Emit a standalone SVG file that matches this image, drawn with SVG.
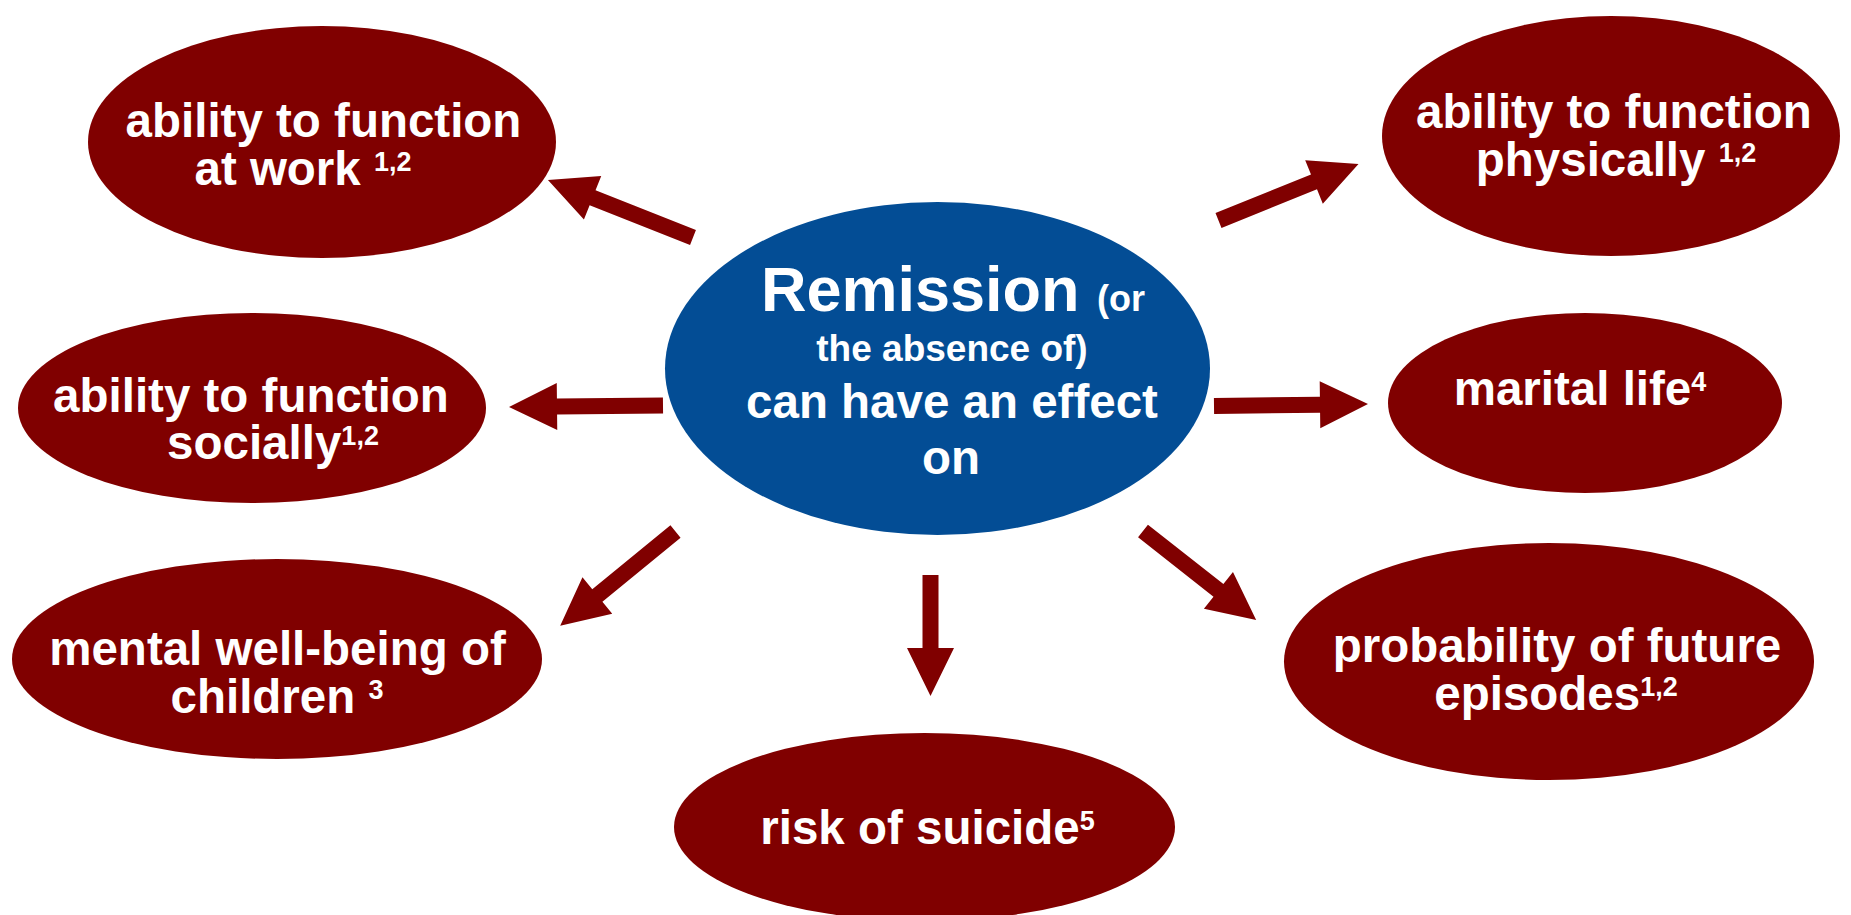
<svg xmlns="http://www.w3.org/2000/svg" width="1851" height="915" viewBox="0 0 1851 915">
<style>
.node{fill:#800000}
.center{fill:#034D95}
.t{font-family:"Liberation Sans",Arial,Helvetica,sans-serif;font-weight:bold;fill:#ffffff;text-anchor:middle;font-size:47.5px}
.sup{font-size:27px}
.arrow{fill:#800000}
</style>
<rect width="1851" height="915" fill="#ffffff"/>
<g id="connectors">
<polygon class="arrow" transform="translate(693,237.5) rotate(201.6)" points="0,-8 108,-8 108,-23.5 156,0 108,23.5 108,8 0,8"/>
<polygon class="arrow" transform="translate(1218.5,220.5) rotate(-22)" points="0,-8 103,-8 103,-23.5 151,0 103,23.5 103,8 0,8"/>
<polygon class="arrow" transform="translate(663,405.5) rotate(179.4)" points="0,-8 106,-8 106,-23.5 154,0 106,23.5 106,8 0,8"/>
<polygon class="arrow" transform="translate(1214,406) rotate(-0.7)" points="0,-8 106,-8 106,-23.5 154,0 106,23.5 106,8 0,8"/>
<polygon class="arrow" transform="translate(675.5,531.5) rotate(140.7)" points="0,-8 101,-8 101,-23.5 149,0 101,23.5 101,8 0,8"/>
<polygon class="arrow" transform="translate(1143,531) rotate(38.2)" points="0,-8 96,-8 96,-23.5 144,0 96,23.5 96,8 0,8"/>
<polygon class="arrow" transform="translate(930.5,575) rotate(90)" points="0,-8 73,-8 73,-23.5 121,0 73,23.5 73,8 0,8"/>
</g>
<g id="center">
<ellipse class="center" cx="937.5" cy="368.5" rx="272.5" ry="166.5"/>
<text class="t" x="953" y="311" style="font-size:63px">Remission <tspan style="font-size:36px">(or</tspan></text>
<text class="t" x="952" y="361" style="font-size:37px">the absence of)</text>
<text class="t" x="952" y="418">can have an effect</text>
<text class="t" x="951" y="474">on</text>
</g>
<g id="node-work">
<ellipse class="node" cx="322" cy="142" rx="234" ry="116"/>
<text class="t" x="323.5" y="137">ability to function</text>
<text class="t" x="303" y="185">at work <tspan class="sup" dy="-14">1,2</tspan></text>
</g>
<g id="node-physically">
<ellipse class="node" cx="1611" cy="136" rx="229" ry="120"/>
<text class="t" x="1614" y="128">ability to function</text>
<text class="t" x="1616" y="176">physically <tspan class="sup" dy="-14">1,2</tspan></text>
</g>
<g id="node-socially">
<ellipse class="node" cx="252" cy="408" rx="234" ry="95"/>
<text class="t" x="251" y="412">ability to function</text>
<text class="t" x="273" y="459">socially<tspan class="sup" dy="-14">1,2</tspan></text>
</g>
<g id="node-marital">
<ellipse class="node" cx="1585" cy="403" rx="197" ry="90"/>
<text class="t" x="1580" y="405">marital life<tspan class="sup" dy="-14">4</tspan></text>
</g>
<g id="node-children">
<ellipse class="node" cx="277" cy="659" rx="265" ry="100"/>
<text class="t" x="277.5" y="665">mental well-being of</text>
<text class="t" x="277" y="713">children <tspan class="sup" dy="-14">3</tspan></text>
</g>
<g id="node-episodes">
<ellipse class="node" cx="1549" cy="661.5" rx="265" ry="118.5"/>
<text class="t" x="1557" y="662">probability of future</text>
<text class="t" x="1556" y="710">episodes<tspan class="sup" dy="-14">1,2</tspan></text>
</g>
<g id="node-suicide">
<ellipse class="node" cx="924.5" cy="827" rx="250.5" ry="94"/>
<text class="t" x="927.5" y="844">risk of suicide<tspan class="sup" dy="-14">5</tspan></text>
</g>
</svg>
